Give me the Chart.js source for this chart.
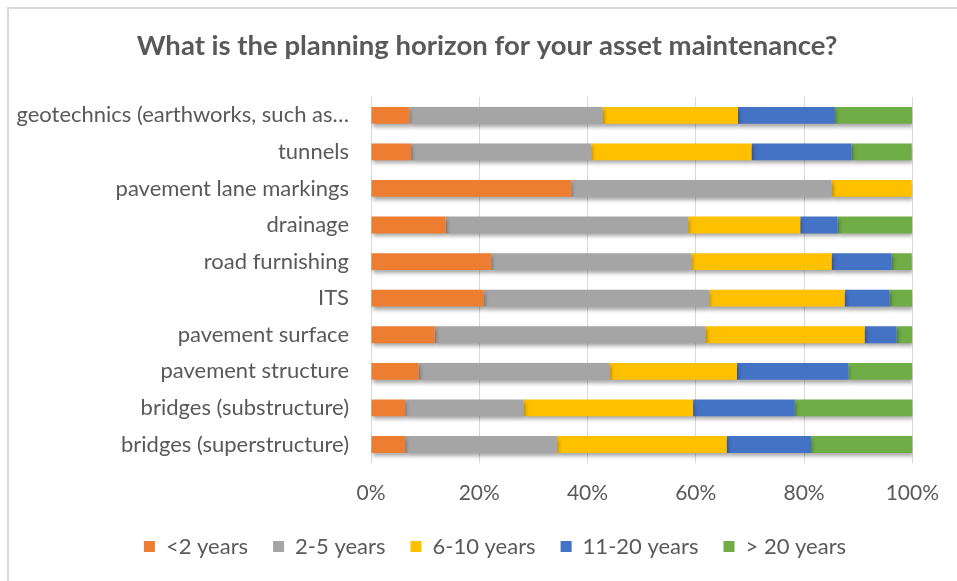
<!DOCTYPE html>
<html>
<head>
<meta charset="utf-8">
<script src="https://cdn.jsdelivr.net/npm/chart.js@4.4.1/dist/chart.umd.min.js"></script>
<style>
  html, body { margin: 0; padding: 0; background: #fff; }
  #wrap { position: relative; width: 957px; height: 581px; overflow: hidden; }
  #frame { position: absolute; left: 7px; top: 7px; width: 1000px; height: 600px; border: 2px solid #d9d9d9; box-sizing: border-box; }
  #chart { position: absolute; left: 0; top: 0; }
</style>
</head>
<body>
<div id="wrap">
  <div id="frame"></div>
  <canvas id="chart" width="957" height="581"></canvas>
</div>
<script>
// Categories (top to bottom as shown)
const categories = [
    'geotechnics (earthworks, such as\u2026',
    'tunnels',
    'pavement lane markings',
    'drainage',
    'road furnishing',
    'ITS',
    'pavement surface',
    'pavement structure',
    'bridges (substructure)',
    'bridges (superstructure)'
];

const seriesNames = ['<2 years', '2-5 years', '6-10 years', '11-20 years', '> 20 years'];

// Share of responses (%) per category
const lessThan2 = [7.1, 7.4, 37.0, 13.8, 22.2, 20.8, 11.8, 8.8, 6.3, 6.3];
const from2to5 = [35.7, 33.3, 48.1, 44.8, 37.0, 41.7, 50.0, 35.3, 21.9, 28.1];
const from6to10 = [25.0, 29.6, 14.8, 20.7, 25.9, 25.0, 29.4, 23.5, 31.3, 31.3];
const from11to20 = [17.9, 18.5, 0, 6.9, 11.1, 8.3, 5.9, 20.6, 18.8, 15.6];
const over20 = [14.3, 11.1, 0, 13.8, 3.7, 4.2, 2.9, 11.8, 21.9, 18.8];

const xTicks = [0, 20, 40, 60, 80, 100];

const colors = ['#ED7D31', '#A5A5A5', '#FFC000', '#4472C4', '#70AD47'];
const values = [lessThan2, from2to5, from6to10, from11to20, over20];

const textColor = '#595959';
const fontFamily = 'Lato, "Open Sans", sans-serif';

// Soft drop shadow under the bars, like the original
const barShadow = {
    id: 'barShadow',
    beforeDatasetsDraw(chart) {
        const ctx = chart.ctx;
        ctx.save();
        ctx.shadowColor = 'rgba(0, 0, 0, 0.35)';
        ctx.shadowBlur = 4;
        ctx.shadowOffsetX = 1;
        ctx.shadowOffsetY = 3;
    },
    afterDatasetsDraw(chart) {
        chart.ctx.restore();
    }
};

// Move title and legend boxes so they sit where the original has them
function moveBox(box, cx, cy) {
    if (!box) return;
    const dx = cx - (box.left + box.right) / 2;
    box.left += dx; box.right += dx;
    if (cy !== null) {
        const dy = cy - (box.top + box.bottom) / 2;
        box.top += dy; box.bottom += dy;
    }
}
const boxPlace = {
    id: 'boxPlace',
    afterLayout(chart) {
        moveBox(chart.titleBlock, 487, null);
        moveBox(chart.legend, 495, 539);
    }
};

const datasets = seriesNames.map((name, i) => ({
    label: name,
    data: values[i],
    backgroundColor: colors[i],
    borderWidth: 0,
    barPercentage: 0.46,
    categoryPercentage: 1
}));

new Chart(document.getElementById('chart'), {
    type: 'bar',
    data: { labels: categories, datasets: datasets },
    plugins: [barShadow, boxPlace],
    options: {
        indexAxis: 'y',
        responsive: false,
        animation: false,
        layout: { padding: { left: 0, right: 38, top: 0, bottom: 0 } },
        scales: {
            x: {
                stacked: true,
                min: 0,
                max: 100,
                afterBuildTicks(scale) {
                    scale.ticks = xTicks.map(v => ({ value: v }));
                },
                grid: { color: '#d9d9d9', drawTicks: false },
                border: { display: false },
                ticks: {
                    color: textColor,
                    padding: 18,
                    font: { family: fontFamily, size: 21 },
                    callback: v => v + '%'
                }
            },
            y: {
                stacked: true,
                afterFit(scale) { scale.width = 371; },
                grid: { display: false, drawTicks: false },
                border: { display: true, color: '#d9d9d9' },
                ticks: {
                    color: textColor,
                    padding: 22,
                    font: { family: fontFamily, size: 22 }
                }
            }
        },
        plugins: {
            title: {
                display: true,
                text: 'What is the planning horizon for your asset maintenance?',
                color: textColor,
                font: { family: fontFamily, size: 27.5, weight: 'bold' },
                padding: { top: 30, bottom: 34 }
            },
            legend: {
                position: 'bottom',
                labels: {
                    color: textColor,
                    boxWidth: 11,
                    boxHeight: 11,
                    padding: 25,
                    font: { family: fontFamily, size: 22 }
                }
            },
            tooltip: { enabled: false }
        }
    }
});
</script>
</body>
</html>
